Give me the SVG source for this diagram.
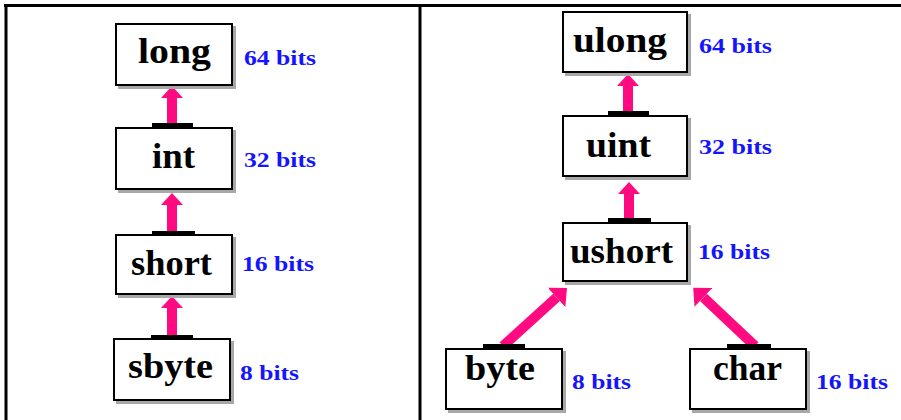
<svg xmlns="http://www.w3.org/2000/svg" width="901" height="420" viewBox="0 0 901 420">
<style>
.frame{stroke:#000;stroke-width:3;fill:none}
.shadow{fill:#a8a8a8}
.box{fill:#fff;stroke:#000;stroke-width:2}
.bar{fill:#000}
.name{font-family:"Liberation Serif",serif;font-weight:bold;font-size:35px;fill:#000;text-anchor:middle}
.bits{font-family:"Liberation Serif",serif;font-weight:bold;font-size:22px;fill:#1414ff}
.arr{stroke:#ff0a80;stroke-width:10;fill:none;marker-end:url(#head)}
.arrd{stroke:#ff0a80;stroke-width:10;fill:none;marker-end:url(#headd)}
</style>
<defs>
<marker id="head" markerUnits="userSpaceOnUse" viewBox="0 0 12 22" refX="0" refY="11" markerWidth="12" markerHeight="22" orient="auto">
<path d="M0,0 L12,11 L0,22 Z" fill="#ff0a80"/>
</marker>
<marker id="headd" markerUnits="userSpaceOnUse" viewBox="0 0 14 26" refX="0" refY="13" markerWidth="14" markerHeight="26" orient="auto">
<path d="M0,0 L14,13 L0,26 Z" fill="#ff0a80"/>
</marker>
</defs>
<rect width="901" height="420" fill="#fff"/>
<g id="frame">
<line class="frame" x1="4" y1="5.5" x2="901" y2="5.5"/>
<line class="frame" x1="6" y1="4" x2="6" y2="420"/>
<line class="frame" x1="420" y1="4" x2="420" y2="420"/>
</g>
<g id="connectors">
<line class="arr" x1="172" y1="124" x2="172" y2="98"/>
<line class="arr" x1="172" y1="232" x2="172" y2="205"/>
<line class="arr" x1="172" y1="336" x2="172" y2="308"/>
<line class="arr" x1="628" y1="112" x2="628" y2="86"/>
<line class="arr" x1="629" y1="219" x2="629" y2="194"/>
<line class="arrd" x1="503" y1="346" x2="556.6" y2="297.4"/>
<line class="arrd" x1="755" y1="346" x2="703.4" y2="297.4"/>
</g>
<g id="node-long">
<rect class="shadow" x="118" y="26" width="118" height="63"/>
<rect class="box" x="116" y="24" width="116" height="61"/>
<text class="name" x="174.5" y="63" textLength="73" lengthAdjust="spacingAndGlyphs">long</text>
<text class="bits" x="244" y="65" textLength="72" lengthAdjust="spacingAndGlyphs">64 bits</text>
</g>
<g id="node-int">
<rect class="shadow" x="118" y="130" width="118" height="63"/>
<rect class="box" x="116" y="128" width="116" height="61"/>
<rect class="bar" x="152" y="123" width="41" height="4"/>
<text class="name" x="173.5" y="168" textLength="43" lengthAdjust="spacingAndGlyphs">int</text>
<text class="bits" x="244" y="167" textLength="72" lengthAdjust="spacingAndGlyphs">32 bits</text>
</g>
<g id="node-short">
<rect class="shadow" x="118" y="237" width="118" height="61"/>
<rect class="box" x="116" y="235" width="116" height="59"/>
<rect class="bar" x="152" y="231" width="43" height="4"/>
<text class="name" x="171.5" y="275" textLength="81" lengthAdjust="spacingAndGlyphs">short</text>
<text class="bits" x="242" y="271" textLength="72" lengthAdjust="spacingAndGlyphs">16 bits</text>
</g>
<g id="node-sbyte">
<rect class="shadow" x="116" y="341" width="118" height="63"/>
<rect class="box" x="114" y="339" width="116" height="61"/>
<rect class="bar" x="151" y="335" width="42" height="4"/>
<text class="name" x="170.5" y="378" textLength="85" lengthAdjust="spacingAndGlyphs">sbyte</text>
<text class="bits" x="240" y="380" textLength="59" lengthAdjust="spacingAndGlyphs">8 bits</text>
</g>
<g id="node-ulong">
<rect class="shadow" x="565" y="14" width="126" height="62"/>
<rect class="box" x="563" y="12" width="124" height="60"/>
<text class="name" x="620" y="52" textLength="94" lengthAdjust="spacingAndGlyphs">ulong</text>
<text class="bits" x="699" y="53" textLength="73" lengthAdjust="spacingAndGlyphs">64 bits</text>
</g>
<g id="node-uint">
<rect class="shadow" x="565" y="118" width="126" height="62"/>
<rect class="box" x="563" y="116" width="124" height="60"/>
<rect class="bar" x="608" y="111" width="41" height="4"/>
<text class="name" x="618.5" y="157" textLength="65" lengthAdjust="spacingAndGlyphs">uint</text>
<text class="bits" x="699" y="154" textLength="73" lengthAdjust="spacingAndGlyphs">32 bits</text>
</g>
<g id="node-ushort">
<rect class="shadow" x="565" y="225" width="126" height="60"/>
<rect class="box" x="563" y="223" width="124" height="58"/>
<rect class="bar" x="608" y="218" width="43" height="4"/>
<text class="name" x="621.5" y="263" textLength="103" lengthAdjust="spacingAndGlyphs">ushort</text>
<text class="bits" x="698" y="259" textLength="72" lengthAdjust="spacingAndGlyphs">16 bits</text>
</g>
<g id="node-byte">
<rect class="shadow" x="448" y="351" width="118" height="62"/>
<rect class="box" x="446" y="349" width="116" height="60"/>
<rect class="bar" x="483" y="344" width="42" height="4"/>
<text class="name" x="500" y="380" textLength="70" lengthAdjust="spacingAndGlyphs">byte</text>
<text class="bits" x="572" y="389" textLength="59" lengthAdjust="spacingAndGlyphs">8 bits</text>
</g>
<g id="node-char">
<rect class="shadow" x="692" y="351" width="118" height="62"/>
<rect class="box" x="690" y="349" width="116" height="60"/>
<rect class="bar" x="727" y="344" width="44" height="4"/>
<text class="name" x="747.5" y="380" textLength="69" lengthAdjust="spacingAndGlyphs">char</text>
<text class="bits" x="816" y="389" textLength="72" lengthAdjust="spacingAndGlyphs">16 bits</text>
</g>
</svg>
